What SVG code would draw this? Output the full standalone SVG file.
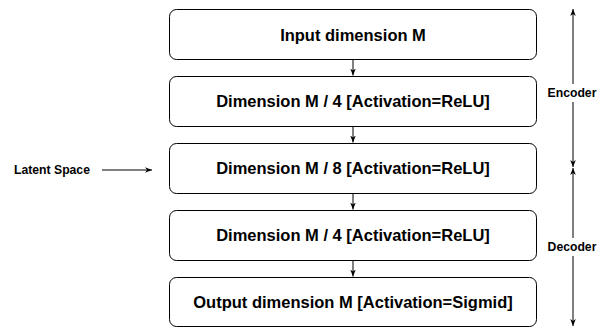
<svg xmlns="http://www.w3.org/2000/svg" width="606" height="327" viewBox="0 0 606 327">
<style>
.box{fill:#fff;stroke:#000;stroke-width:1}
.t{font-family:"Liberation Sans",Arial,sans-serif;font-weight:bold;font-size:16.5px;fill:#000;text-anchor:middle;dominant-baseline:central}
.s{font-family:"Liberation Sans",Arial,sans-serif;font-weight:bold;font-size:12.2px;fill:#000;text-anchor:middle;dominant-baseline:central}
.c{stroke:#000;stroke-width:1;fill:none}
</style>
<defs>
<marker id="ah" viewBox="0 0 10 10" refX="10" refY="5" markerWidth="7" markerHeight="7" orient="auto-start-reverse" markerUnits="userSpaceOnUse">
<path d="M0,1 L10,5 L0,9 L3,5 Z" fill="#000"/>
</marker>
</defs>
<rect width="606" height="327" fill="#fff"/>
<g id="connectors">
<line class="c" x1="353" y1="60" x2="353" y2="75.5" marker-end="url(#ah)"/>
<line class="c" x1="353" y1="127" x2="353" y2="142.5" marker-end="url(#ah)"/>
<line class="c" x1="353" y1="194" x2="353" y2="209.5" marker-end="url(#ah)"/>
<line class="c" x1="353" y1="261" x2="353" y2="276.5" marker-end="url(#ah)"/>
<line class="c" x1="102" y1="170" x2="152" y2="170" marker-end="url(#ah)"/>
<line class="c" x1="573" y1="9" x2="573" y2="167" marker-start="url(#ah)" marker-end="url(#ah)"/>
<line class="c" x1="573" y1="168" x2="573" y2="326" marker-start="url(#ah)" marker-end="url(#ah)"/>
</g>
<g id="n1"><rect class="box" x="169.5" y="9.5" width="367" height="50" rx="7"/><text class="t" x="353" y="35">Input dimension M</text></g>
<g id="n2"><rect class="box" x="169.5" y="76.5" width="367" height="50" rx="7"/><text class="t" x="353" y="101">Dimension M / 4 [Activation=ReLU]</text></g>
<g id="n3"><rect class="box" x="169.5" y="143.5" width="367" height="50" rx="7"/><text class="t" x="353" y="168">Dimension M / 8 [Activation=ReLU]</text></g>
<g id="n4"><rect class="box" x="169.5" y="210.5" width="367" height="50" rx="7"/><text class="t" x="353" y="235">Dimension M / 4 [Activation=ReLU]</text></g>
<g id="n5"><rect class="box" x="169.5" y="277.5" width="367" height="49" rx="7"/><text class="t" x="353" y="302">Output dimension M [Activation=Sigmid]</text></g>
<g id="latent"><text class="s" x="52" y="170">Latent Space</text></g>
<g id="encoder"><rect x="546" y="84" width="54" height="18" fill="#fff"/><text class="s" x="572" y="93">Encoder</text></g>
<g id="decoder"><rect x="546" y="238" width="54" height="18" fill="#fff"/><text class="s" x="572" y="247">Decoder</text></g>
</svg>
